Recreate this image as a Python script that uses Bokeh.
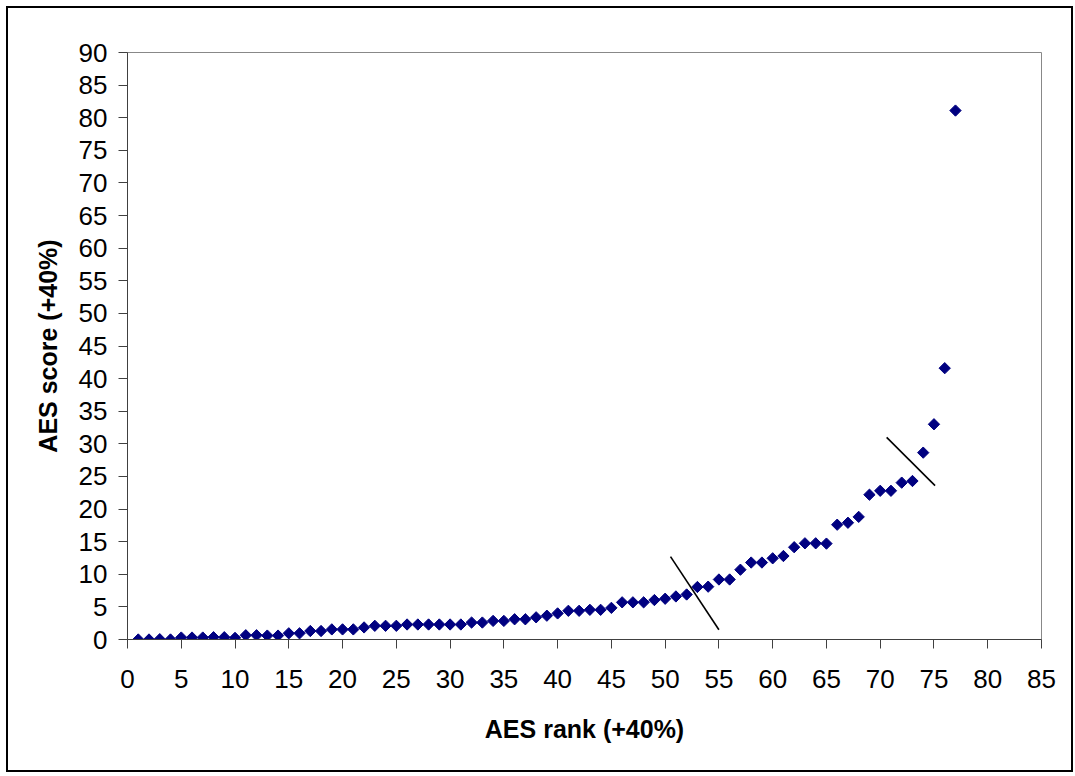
from bokeh.plotting import figure
from bokeh.models import Range1d, FixedTicker, ColumnDataSource
from bokeh.embed import file_html
from bokeh.resources import INLINE

# ---- data ----
ranks = [1, 2, 3, 4, 5, 6, 7, 8, 9, 10,
         11, 12, 13, 14, 15, 16, 17, 18, 19, 20,
         21, 22, 23, 24, 25, 26, 27, 28, 29, 30,
         31, 32, 33, 34, 35, 36, 37, 38, 39, 40,
         41, 42, 43, 44, 45, 46, 47, 48, 49, 50,
         51, 52, 53, 54, 55, 56, 57, 58, 59, 60,
         61, 62, 63, 64, 65, 66, 67, 68, 69, 70,
         71, 72, 73, 74, 75, 76, 77]
scores = [0.0, 0.0, 0.05, 0.0, 0.3, 0.3, 0.3, 0.35, 0.35, 0.25,
          0.65, 0.65, 0.6, 0.6, 0.95, 0.95, 1.3, 1.3, 1.55, 1.55,
          1.55, 1.85, 2.1, 2.1, 2.1, 2.3, 2.3, 2.3, 2.3, 2.3,
          2.3, 2.6, 2.6, 2.85, 2.85, 3.1, 3.1, 3.4, 3.65, 4.0,
          4.4, 4.4, 4.55, 4.55, 4.85, 5.7, 5.7, 5.7, 6.05, 6.25,
          6.6, 6.9, 8.05, 8.1, 9.2, 9.2, 10.7, 11.8, 11.8, 12.45,
          12.8, 14.15, 14.75, 14.75, 14.7, 17.6, 17.9, 18.8, 22.2, 22.8,
          22.8, 24.05, 24.3, 28.65, 33.0, 41.6, 81.1]

x_ticks = [0, 5, 10, 15, 20, 25, 30, 35, 40, 45, 50, 55, 60, 65, 70, 75, 80, 85]
y_ticks = [0, 5, 10, 15, 20, 25, 30, 35, 40, 45, 50, 55, 60, 65, 70, 75, 80, 85, 90]

# break marks (drawn lines) in data coordinates
break_x0 = [50.5, 70.6]
break_y0 = [12.7, 31.0]
break_x1 = [55.0, 75.1]
break_y1 = [1.5, 23.6]

x_title = "AES rank (+40%)"
y_title = "AES score (+40%)"

FONT = "Liberation Sans"

p = figure(frame_width=914, frame_height=587,
           min_border_left=119, min_border_right=30,
           min_border_top=44, min_border_bottom=131,
           x_range=Range1d(0, 85), y_range=Range1d(0, 90),
           output_backend="svg", toolbar_location=None,
           background_fill_color="white", border_fill_color="white")
p.margin = (8, 0, 0, 8)
p.styles = {"outline": "2px solid black"}

p.outline_line_color = "#888888"
p.outline_line_width = 1
p.xgrid.visible = False
p.ygrid.visible = False

for ax in (p.xaxis[0], p.yaxis[0]):
    ax.axis_line_color = "#404040"
    ax.major_tick_line_color = "#404040"
    ax.minor_tick_line_color = None
    ax.major_tick_in = 0
    ax.major_tick_out = 9
    ax.major_label_text_font = FONT
    ax.major_label_text_font_size = "26px"
    ax.major_label_text_color = "black"
    ax.axis_label_text_font = FONT
    ax.axis_label_text_font_size = "25px"
    ax.axis_label_text_font_style = "bold"
    ax.axis_label_text_color = "black"

p.xaxis.ticker = FixedTicker(ticks=x_ticks)
p.yaxis.ticker = FixedTicker(ticks=y_ticks)
p.xaxis.axis_label = x_title
p.yaxis.axis_label = y_title
p.xaxis.major_label_standoff = 21
p.xaxis.axis_label_standoff = 24
p.yaxis.major_label_standoff = 11
p.yaxis.axis_label_standoff = 14

src = ColumnDataSource(dict(rank=ranks, score=scores))
p.scatter(x="rank", y="score", source=src, marker="square", size=8,
          angle=0.7853981634, fill_color="#000080", line_color="#000080")

p.segment(x0=break_x0, y0=break_y0, x1=break_x1, y1=break_y1,
          line_color="black", line_width=1.6)

open("out.html", "w").write(file_html(p, INLINE))
